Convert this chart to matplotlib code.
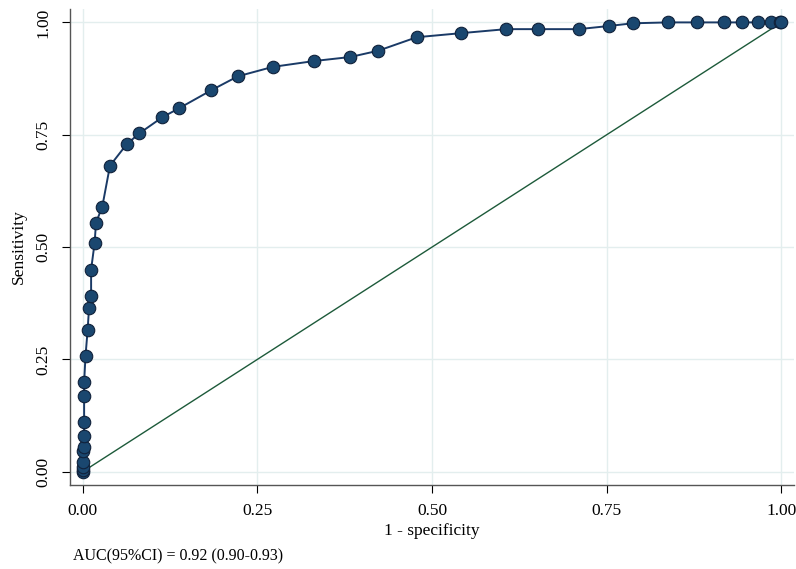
import matplotlib
matplotlib.use("Agg")
import matplotlib.pyplot as plt

# ROC points
fpr = [0.0, 0.0, 0.0, 0.0, 0.001, 0.002, 0.002, 0.002, 0.002, 0.002, 0.004,
       0.007, 0.009, 0.012, 0.012, 0.017, 0.019, 0.028, 0.039, 0.063, 0.081,
       0.114, 0.138, 0.184, 0.222, 0.272, 0.331, 0.383, 0.423, 0.478, 0.541,
       0.606, 0.651, 0.710, 0.753, 0.787, 0.838, 0.879, 0.918, 0.944, 0.966,
       0.985, 0.998, 1.0]
tpr = [0.0, 0.004, 0.011, 0.022, 0.045, 0.056, 0.079, 0.110, 0.169, 0.199,
       0.258, 0.315, 0.364, 0.390, 0.450, 0.509, 0.554, 0.590, 0.681, 0.729,
       0.753, 0.789, 0.809, 0.849, 0.880, 0.901, 0.914, 0.923, 0.937, 0.967,
       0.976, 0.985, 0.985, 0.985, 0.992, 0.998, 1.0, 1.0, 1.0, 1.0, 1.0,
       1.0, 1.0, 1.0]
ticks = [0.0, 0.25, 0.5, 0.75, 1.0]
tick_labels = ["0.00", "0.25", "0.50", "0.75", "1.00"]
auc_text = "AUC(95%CI) = 0.92 (0.90-0.93)"

plt.rcParams["font.family"] = ["Liberation Serif", "DejaVu Serif"]

fig = plt.figure(figsize=(7.96, 5.69), dpi=100)
ax = fig.add_axes([0.0876, 0.1476, 0.9104, 0.8364])

ax.plot([0, 1], [0, 1], color="#1d5a3a", lw=1.0, zorder=2)
ax.plot(fpr, tpr, color="#1a3a66", lw=1.4, marker="o", markersize=9,
        markerfacecolor="#1a476f", markeredgecolor="#10213a",
        markeredgewidth=0.8, zorder=3)

ax.set_xlim(-0.0186, 1.0186)
ax.set_ylim(-0.0296, 1.0296)
ax.set_xticks(ticks)
ax.set_xticklabels(tick_labels)
ax.set_yticks(ticks)
ax.set_yticklabels(tick_labels, rotation=90, va="center")
ax.tick_params(direction="out", length=6, width=0.8, colors="black",
               labelsize=12.5, pad=7)
ax.grid(True, color="#e3eeee", lw=1.0, zorder=0)
ax.set_axisbelow(True)

for side in ["top", "right"]:
    ax.spines[side].set_visible(False)
for side in ["left", "bottom"]:
    ax.spines[side].set_color("#555555")
    ax.spines[side].set_linewidth(1.0)

ax.set_xlabel("1 - specificity", fontsize=12.5, labelpad=3)
ax.set_ylabel("Sensitivity", fontsize=12.5, labelpad=6)

fig.text(0.092, 0.022, auc_text, fontsize=11.5, ha="left", va="center")

fig.savefig("out.png", dpi=100, facecolor="white")
